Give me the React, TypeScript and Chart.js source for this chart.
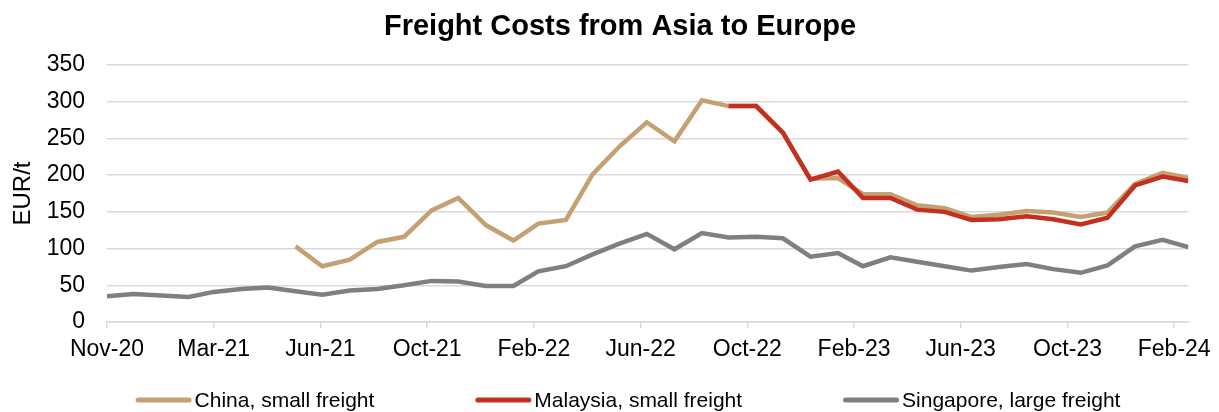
import React, { useEffect, useRef } from "react";
import { Chart, registerables } from "chart.js";

Chart.register(...registerables);

// ---------- data ----------
const months = [
  "2020-11", "2020-12",
  "2021-01", "2021-02", "2021-03", "2021-04", "2021-05", "2021-06",
  "2021-07", "2021-08", "2021-09", "2021-10", "2021-11", "2021-12",
  "2022-01", "2022-02", "2022-03", "2022-04", "2022-05", "2022-06",
  "2022-07", "2022-08", "2022-09", "2022-10", "2022-11", "2022-12",
  "2023-01", "2023-02", "2023-03", "2023-04", "2023-05", "2023-06",
  "2023-07", "2023-08", "2023-09", "2023-10", "2023-11", "2023-12",
  "2024-01", "2024-02", "2024-03",
];

const china: (number | null)[] = [
  null, null,
  null, null, null, null, null, 103,
  76, 85, 109, 116, 152, 169,
  132, 111, 134, 139, 201, 240,
  272, 246, 302, 294, 294, 258,
  195, 196, 174, 174, 159, 155,
  143, 146, 151, 149, 143, 149,
  188, 203, 196,
];

const malaysia: (number | null)[] = [
  null, null,
  null, null, null, null, null, null,
  null, null, null, null, null, null,
  null, null, null, null, null, null,
  null, null, null, 294, 294, 258,
  194, 205, 169, 169, 153, 150,
  139, 140, 144, 140, 133, 142,
  186, 198, 192,
];

const singapore: (number | null)[] = [
  35, 38,
  36, 34, 41, 45, 47, 42,
  37, 43, 45, 50, 56, 55,
  49, 49, 69, 76, 92, 107,
  120, 99, 121, 115, 116, 114,
  89, 94, 76, 88, 82, 76,
  70, 75, 79, 72, 67, 77,
  103, 112, 102,
];

const seriesNames = [
  "China, small freight",
  "Malaysia, small freight",
  "Singapore, large freight",
];
const seriesColors = ["#C4A072", "#C3301F", "#7F7F7F"];

const chartTitle = "Freight Costs from Asia to Europe";
const yAxisTitle = "EUR/t";
const yMin = 0;
const yMax = 350;
const yStep = 50;
const xTickStepDays = 120;
const monthNames = ["Jan", "Feb", "Mar", "Apr", "May", "Jun", "Jul", "Aug", "Sep", "Oct", "Nov", "Dec"];

// ---------- helpers ----------
const DAY = 86400000;
const BASE = Date.UTC(2020, 10, 1);
const toDay = (m: string) => {
  const [y, mo] = m.split("-").map(Number);
  return (Date.UTC(y, mo - 1, 1) - BASE) / DAY;
};
const fmtDay = (v: number) => {
  const d = new Date(BASE + v * DAY);
  return monthNames[d.getUTCMonth()] + "-" + String(d.getUTCFullYear() % 100).padStart(2, "0");
};
const toPoints = (vals: (number | null)[]) =>
  months.map((m, i) => ({ x: toDay(m), y: vals[i] }));

const FONT = "'Liberation Sans', Arial, Helvetica, sans-serif";

const overlayPlugin = {
  id: "overlayText",
  afterDraw(chart: any) {
    const ctx = chart.ctx as CanvasRenderingContext2D;
    ctx.save();
    // title
    ctx.font = `bold 29px ${FONT}`;
    ctx.fillStyle = "#000";
    ctx.textAlign = "center";
    ctx.textBaseline = "middle";
    ctx.fillText(chartTitle, 620, 27);

    // legend
    ctx.font = `21px ${FONT}`;
    const sampleW = 56;
    const gapText = 3;
    const itemGap = 101;
    const widths = seriesNames.map((n) => sampleW + gapText + ctx.measureText(n).width);
    const total = widths.reduce((a, b) => a + b, 0) + itemGap * (widths.length - 1);
    let x = 628 - total / 2;
    const y = 400;
    seriesNames.forEach((name, i) => {
      ctx.strokeStyle = seriesColors[i];
      ctx.lineWidth = 5;
      ctx.lineCap = "round";
      ctx.beginPath();
      ctx.moveTo(x + 2.5, y);
      ctx.lineTo(x + sampleW - 2.5, y);
      ctx.stroke();
      ctx.fillStyle = "#000";
      ctx.textAlign = "left";
      ctx.textBaseline = "middle";
      ctx.fillText(name, x + sampleW + gapText, y + 1);
      x += widths[i] + itemGap;
    });
    ctx.restore();
  },
};

export default function App() {
  const ref = useRef<HTMLCanvasElement | null>(null);

  useEffect(() => {
    if (!ref.current) return;
    const xMax = toDay(months[months.length - 1]);
    const chart = new Chart(ref.current, {
      type: "line",
      data: {
        datasets: [
          {
            label: seriesNames[0],
            data: toPoints(china),
            borderColor: seriesColors[0],
            backgroundColor: seriesColors[0],
            borderWidth: 4.5,
            pointRadius: 0,
            tension: 0,
            spanGaps: false,
            order: 2,
          },
          {
            label: seriesNames[1],
            data: toPoints(malaysia),
            borderColor: seriesColors[1],
            backgroundColor: seriesColors[1],
            borderWidth: 4.5,
            pointRadius: 0,
            tension: 0,
            spanGaps: false,
            order: 1,
          },
          {
            label: seriesNames[2],
            data: toPoints(singapore),
            borderColor: seriesColors[2],
            backgroundColor: seriesColors[2],
            borderWidth: 4.5,
            pointRadius: 0,
            tension: 0,
            spanGaps: false,
            order: 3,
          },
        ],
      },
      options: {
        responsive: false,
        animation: false,
        layout: { padding: { top: 65, left: 0, right: 29, bottom: 50 } },
        font: { family: FONT },
        plugins: {
          legend: { display: false },
          title: { display: false },
          tooltip: { enabled: false },
        },
        scales: {
          x: {
            type: "linear",
            min: 0,
            max: xMax,
            afterFit: (s: any) => {
              s.height = 40;
            },
            ticks: {
              stepSize: xTickStepDays,
              includeBounds: false,
              autoSkip: false,
              maxRotation: 0,
              minRotation: 0,
              padding: 8,
              color: "#000",
              font: { family: FONT, size: 23 },
              callback: (v: any) => fmtDay(Number(v)),
            },
            grid: {
              drawOnChartArea: false,
              drawTicks: true,
              tickLength: 6,
              color: "#d9d9d9",
              lineWidth: 1.5,
            },
            border: { display: true, color: "#d9d9d9", width: 1.5 },
          },
          y: {
            min: yMin,
            max: yMax,
            afterFit: (s: any) => {
              s.width = 107;
            },
            ticks: {
              stepSize: yStep,
              padding: 22,
              color: "#000",
              font: { family: FONT, size: 23 },
            },
            grid: {
              drawTicks: false,
              color: "#d9d9d9",
              lineWidth: 1.5,
            },
            border: { display: false },
            title: {
              display: true,
              text: yAxisTitle,
              color: "#000",
              font: { family: FONT, size: 24 },
              padding: { top: 9, bottom: 0 },
            },
          },
        },
      },
      plugins: [overlayPlugin],
    });
    return () => chart.destroy();
  }, []);

  return (
    <div style={{ position: "absolute", left: 0, top: 0, width: 1219, height: 412, background: "#fff" }}>
      <canvas ref={ref} width={1219} height={412} style={{ display: "block" }} />
    </div>
  );
}
